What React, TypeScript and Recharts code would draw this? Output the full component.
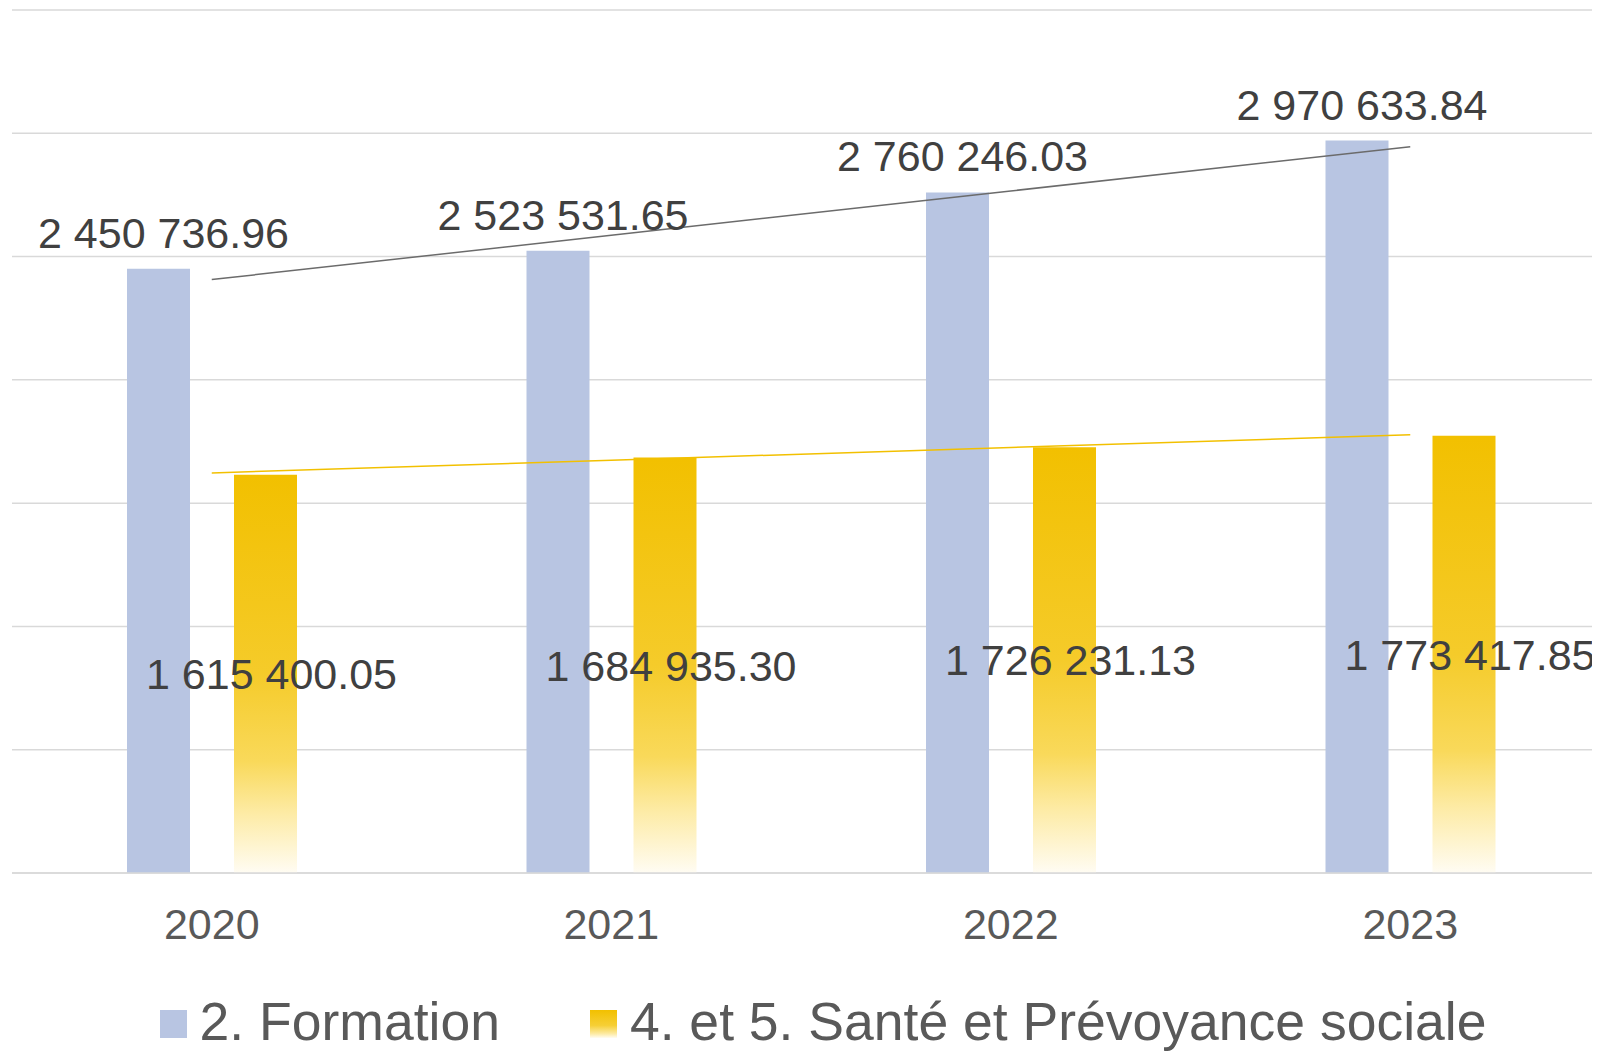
import * as React from 'react';
import { ComposedChart, Bar, Line, XAxis, YAxis, CartesianGrid, Legend, LabelList } from 'recharts';

const years = ['2020', '2021', '2022', '2023'];
const formation = [2450736.96, 2523531.65, 2760246.03, 2970633.84];
const sante = [1615400.05, 1684935.3, 1726231.13, 1773417.85];
const yTicks = [0, 500000, 1000000, 1500000, 2000000, 2500000, 3000000, 3500000];

const FONT = '"Liberation Sans", Arial, sans-serif';
const BLUE = '#B8C5E2';
const GOLD = '#F2C000';

// least-squares trendline, like Excel's linear trendline
function trend(values: number[]) {
  const n = values.length;
  const mx = (n - 1) / 2;
  const my = values.reduce((a, b) => a + b, 0) / n;
  let num = 0;
  let den = 0;
  values.forEach((v, i) => {
    num += (i - mx) * (v - my);
    den += (i - mx) * (i - mx);
  });
  const slope = num / den;
  return values.map((_, i) => my + slope * (i - mx));
}

// non-breaking spaces so the label stays on one line
function fmt(v: number) {
  const [i, d] = v.toFixed(2).split('.');
  return i.replace(/\B(?=(\d{3})+(?!\d))/g, '\u00A0') + '.' + d;
}

const formationTrend = trend(formation);
const santeTrend = trend(sante);

const data = years.map((year, i) => ({
  year,
  formation: formation[i],
  sante: sante[i],
  formationTrend: formationTrend[i],
  santeTrend: santeTrend[i],
}));

function LegendContent() {
  const item = (color: string, label: string) => (
    <div style={{ display: 'flex', alignItems: 'center' }}>
      <div style={{ width: 27, height: 28, background: color, marginRight: 13, marginTop: 4 }} />
      <span>{label}</span>
    </div>
  );
  return (
    <div
      style={{
        display: 'flex',
        justifyContent: 'center',
        gap: 90,
        height: 63,
        paddingTop: 3,
        paddingLeft: 24,
        boxSizing: 'border-box',
        lineHeight: '60px',
        fontFamily: FONT,
        fontSize: 53.5,
        color: '#595959',
      }}
    >
      {item(BLUE, '2. Formation')}
      {item('linear-gradient(#F2C000, #F6CF35 55%, #FDEBA5 85%, #FFFCF2)', '4. et 5. Santé et Prévoyance sociale')}
    </div>
  );
}

export default function App() {
  return (
    <div style={{ width: 1592, height: 1044, overflow: 'hidden' }}>
      <ComposedChart
        width={1602}
        height={1044}
        data={data}
        margin={{ top: 2, right: 0, left: 4, bottom: 0 }}
        barSize={63}
        barGap={44}
      >
        <defs>
          <linearGradient id='goldFill' x1='0' y1='0' x2='0' y2='1'>
            <stop offset='0%' stopColor='#F2C000' />
            <stop offset='50%' stopColor='#F5CB2A' />
            <stop offset='72%' stopColor='#F9D95A' />
            <stop offset='85%' stopColor='#FDEBA5' />
            <stop offset='100%' stopColor='#FFFCF3' />
          </linearGradient>
        </defs>
        <CartesianGrid vertical={false} stroke='#D9D9D9' strokeWidth={1.5} />
        <XAxis
          dataKey='year'
          height={116}
          tickSize={0}
          tickMargin={35}
          axisLine={{ stroke: '#D9D9D9', strokeWidth: 1.5 }}
          tick={{ fontFamily: FONT, fontSize: 43, fill: '#595959' }}
        />
        <YAxis hide domain={[0, 3500000]} ticks={yTicks} />
        <Legend verticalAlign='bottom' content={<LegendContent />} />
        <Bar dataKey='formation' fill={BLUE} isAnimationActive={false}>
          <LabelList
            dataKey='formation'
            position='top'
            offset={21}
            dx={5}
            formatter={(v: any) => fmt(Number(v))}
            style={{ fontFamily: FONT, fontSize: 43, fill: '#404040' }}
          />
        </Bar>
        <Bar dataKey='sante' fill='url(#goldFill)' isAnimationActive={false}>
          <LabelList
            dataKey='sante'
            position='center'
            dx={6}
            formatter={(v: any) => fmt(Number(v))}
            style={{ fontFamily: FONT, fontSize: 43, fill: '#404040' }}
          />
        </Bar>
        <Line
          dataKey='formationTrend'
          type='linear'
          stroke='#6B6B6B'
          strokeWidth={1.5}
          dot={false}
          activeDot={false}
          legendType='none'
          isAnimationActive={false}
        />
        <Line
          dataKey='santeTrend'
          type='linear'
          stroke={GOLD}
          strokeWidth={1.5}
          dot={false}
          activeDot={false}
          legendType='none'
          isAnimationActive={false}
        />
      </ComposedChart>
    </div>
  );
}
